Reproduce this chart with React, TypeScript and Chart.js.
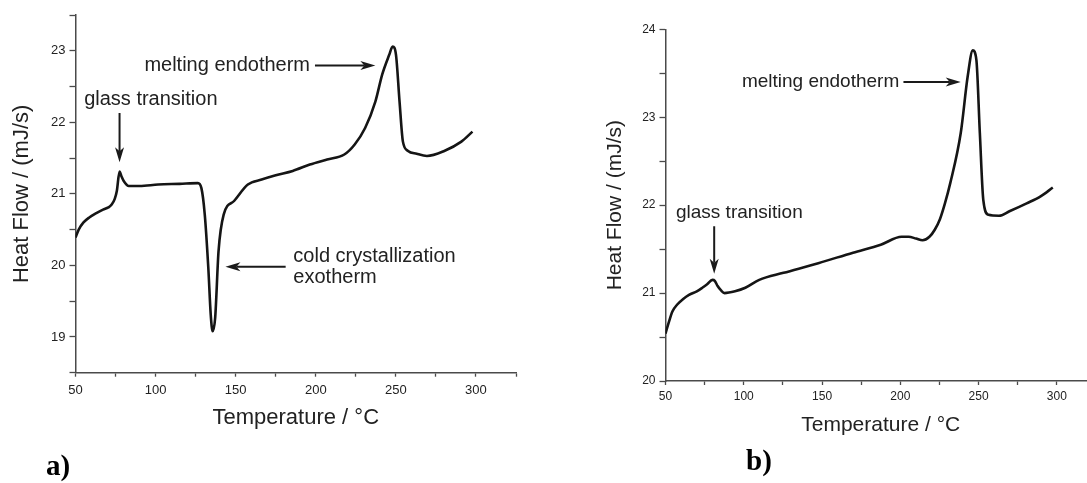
import React, { useEffect, useRef } from 'react';
import { Chart, registerables } from 'chart.js';

Chart.register(...registerables);

// ---------------- data ----------------
// (a) DSC trace with cold crystallization
const tempA = [50, 52, 55, 58.6, 63, 67.2, 70.5, 72.6, 74.5, 75.8, 77.5, 78.8, 80.1, 83.3, 90, 101.6, 115, 126.4, 128.6, 130.7, 132.9, 134.4, 135.6, 137.2, 139.3, 142.5, 149, 157.6, 166.2, 175, 185.6, 196.3, 207.1, 217.8, 224.3, 230.8, 237.2, 241.5, 245.8, 248, 250.1, 252.3, 254.4, 257.6, 263, 269.4, 280.2, 290.9, 297.8];
const heatA = [20.39, 20.5, 20.6, 20.67, 20.73, 20.78, 20.81, 20.85, 20.93, 21.04, 21.31, 21.24, 21.18, 21.11, 21.11, 21.13, 21.14, 21.15, 21.08, 20.71, 19.97, 19.32, 19.08, 19.27, 20.2, 20.71, 20.9, 21.13, 21.2, 21.26, 21.32, 21.41, 21.48, 21.55, 21.69, 21.92, 22.29, 22.67, 22.94, 23.06, 22.94, 22.29, 21.73, 21.6, 21.56, 21.53, 21.6, 21.73, 21.87];

// (b) DSC trace without cold crystallization
const tempB = [50, 52, 54.4, 57.5, 61.1, 65, 70, 73.5, 76.6, 80, 81.5, 83.3, 85.5, 87.7, 94.4, 101, 109.9, 125.4, 147.6, 169.8, 187.5, 200.8, 205.3, 210, 214.2, 218.6, 222, 225.3, 228.5, 231.9, 238.6, 243, 246.3, 248.6, 250.8, 253, 256.3, 263, 269.7, 280.7, 289.6, 297.4];
const heatB = [20.54, 20.66, 20.79, 20.87, 20.93, 20.98, 21.02, 21.06, 21.1, 21.15, 21.14, 21.08, 21.03, 21.0, 21.02, 21.06, 21.15, 21.23, 21.34, 21.46, 21.55, 21.64, 21.64, 21.62, 21.6, 21.64, 21.72, 21.84, 22.02, 22.25, 22.82, 23.46, 23.76, 23.65, 22.82, 22.06, 21.89, 21.88, 21.93, 22.02, 22.1, 22.2];

const xLabelValues = [50, 100, 150, 200, 250, 300];
const yLabelValuesA = [19, 20, 21, 22, 23];
const yLabelValuesB = [20, 21, 22, 23, 24];

const xTitle = 'Temperature / °C';
const yTitle = 'Heat Flow / (mJ/s)';

// annotations, anchored in data coordinates
const notesA = [
  { text: 'glass transition', x: 55.4, y: 22.32 },
  { text: 'melting endotherm', x: 93.0, y: 22.795 },
  { text: 'cold crystallization', x: 186.0, y: 20.13 },
  { text: 'exotherm', x: 186.0, y: 19.83 },
];
const arrowsA = [
  { x1: 77.5, y1: 22.13, x2: 77.5, y2: 21.44 },
  { x1: 199.5, y1: 22.795, x2: 237.2, y2: 22.795 },
  { x1: 181.2, y1: 19.98, x2: 143.6, y2: 19.98 },
];
const notesB = [
  { text: 'glass transition', x: 56.7, y: 21.91 },
  { text: 'melting endotherm', x: 98.8, y: 23.4 },
];
const arrowsB = [
  { x1: 81.1, y1: 21.76, x2: 81.1, y2: 21.22 },
  { x1: 202.0, y1: 23.4, x2: 238.6, y2: 23.4 },
];

const FONT = '"Liberation Sans", Arial, Helvetica, sans-serif';

function drawArrow(ctx: CanvasRenderingContext2D, x1: number, y1: number, x2: number, y2: number) {
  const ang = Math.atan2(y2 - y1, x2 - x1);
  const L = 15, W = 4.5, N = 4;
  ctx.strokeStyle = '#1a1a1a';
  ctx.fillStyle = '#1a1a1a';
  ctx.lineWidth = 2;
  ctx.beginPath();
  ctx.moveTo(x1, y1);
  ctx.lineTo(x2 - (L - N) * Math.cos(ang), y2 - (L - N) * Math.sin(ang));
  ctx.stroke();
  ctx.save();
  ctx.translate(x2, y2);
  ctx.rotate(ang);
  ctx.beginPath();
  ctx.moveTo(0, 0);
  ctx.lineTo(-L, -W);
  ctx.lineTo(-L + N, 0);
  ctx.lineTo(-L, W);
  ctx.closePath();
  ctx.fill();
  ctx.restore();
}

function makeAnnotPlugin(notes: any[], arrows: any[], fontSize: number) {
  return {
    id: 'annot',
    afterDatasetsDraw(chart: any) {
      const { ctx } = chart;
      const x = chart.scales.x;
      const y = chart.scales.y;
      ctx.save();
      ctx.fillStyle = '#222';
      ctx.font = `${fontSize}px ${FONT}`;
      ctx.textBaseline = 'middle';
      ctx.textAlign = 'left';
      for (const n of notes) ctx.fillText(n.text, x.getPixelForValue(n.x), y.getPixelForValue(n.y));
      for (const a of arrows)
        drawArrow(ctx, x.getPixelForValue(a.x1), y.getPixelForValue(a.y1), x.getPixelForValue(a.x2), y.getPixelForValue(a.y2));
      ctx.restore();
    },
  };
}

type Spec = {
  left: number; top: number; width: number; height: number;
  temps: number[]; heat: number[];
  yMin: number; yMax: number; xMin: number; xMax: number;
  yLabels: number[];
  pad: { top: number; right: number; left: number; bottom: number };
  yAxisWidth: number; xAxisHeight: number;
  tickFont: number; titleFont: number; annotFont: number;
  xTitlePad: number; yTitlePad: number; xTickPad: number;
  notes: any[]; arrows: any[];
};

function DscChart({ spec }: { spec: Spec }) {
  const ref = useRef<HTMLCanvasElement>(null);
  useEffect(() => {
    if (!ref.current) return;
    const s = spec;
    const data = s.temps.map((t, i) => ({ x: t, y: s.heat[i] }));
    const axisColor = '#4a4a4a';
    const chart = new Chart(ref.current, {
      type: 'line',
      data: {
        datasets: [
          {
            data,
            borderColor: '#151515',
            borderWidth: 2.6,
            pointRadius: 0,
            fill: false,
            cubicInterpolationMode: 'monotone',
          },
        ],
      },
      options: {
        animation: false,
        responsive: false,
        events: [],
        layout: { padding: s.pad },
        plugins: { legend: { display: false }, tooltip: { enabled: false } },
        scales: {
          x: {
            type: 'linear',
            min: s.xMin,
            max: s.xMax,
            afterFit: (sc: any) => { sc.height = s.xAxisHeight; },
            border: { display: true, color: axisColor, width: 1.5 },
            grid: { display: true, drawOnChartArea: false, drawTicks: true, tickLength: 4, tickColor: axisColor, tickWidth: 1.3 },
            ticks: {
              stepSize: 25,
              includeBounds: false,
              autoSkip: false,
              maxRotation: 0,
              padding: s.xTickPad,
              color: '#222',
              font: { family: FONT, size: s.tickFont },
              callback: (v: any) => (xLabelValues.includes(Number(v)) ? String(v) : ''),
            },
            title: {
              display: true,
              text: xTitle,
              color: '#222',
              font: { family: FONT, size: s.titleFont },
              padding: { top: 0, bottom: s.xTitlePad },
            },
          },
          y: {
            type: 'linear',
            min: s.yMin,
            max: s.yMax,
            afterFit: (sc: any) => { sc.width = s.yAxisWidth; },
            border: { display: true, color: axisColor, width: 1.5 },
            grid: { display: true, drawOnChartArea: false, drawTicks: true, tickLength: 6, tickColor: axisColor, tickWidth: 1.3 },
            ticks: {
              stepSize: 0.5,
              includeBounds: false,
              autoSkip: false,
              padding: 4,
              color: '#222',
              font: { family: FONT, size: s.tickFont },
              callback: (v: any) => (s.yLabels.includes(Number(v)) ? String(v) : ''),
            },
            title: {
              display: true,
              text: yTitle,
              color: '#222',
              font: { family: FONT, size: s.titleFont },
              padding: { top: s.yTitlePad, bottom: 0 },
            },
          },
        },
      },
      plugins: [makeAnnotPlugin(s.notes, s.arrows, s.annotFont)],
    } as any);
    return () => chart.destroy();
  }, [spec]);
  return (
    <canvas
      ref={ref}
      width={spec.width}
      height={spec.height}
      style={{ position: 'absolute', left: spec.left, top: spec.top, width: spec.width, height: spec.height }}
    />
  );
}

const specA: Spec = {
  left: 0, top: 0, width: 540, height: 483,
  temps: tempA, heat: heatA,
  yMin: 18.5, yMax: 23.5, xMin: 50, xMax: 325,
  yLabels: yLabelValuesA,
  pad: { top: 15, right: 24, left: 0, bottom: 0 },
  yAxisWidth: 75.5, xAxisHeight: 110.3,
  tickFont: 13, titleFont: 22, annotFont: 20,
  xTitlePad: 51.5, yTitlePad: 8.5, xTickPad: 6,
  notes: notesA, arrows: arrowsA,
};

const specB: Spec = {
  left: 540, top: 0, width: 560, height: 483,
  temps: tempB, heat: heatB,
  yMin: 20, yMax: 24, xMin: 50, xMax: 325,
  yLabels: yLabelValuesB,
  pad: { top: 29.3, right: 2, left: 0, bottom: 0 },
  yAxisWidth: 125.5, xAxisHeight: 102,
  tickFont: 12, titleFont: 21, annotFont: 19,
  xTitlePad: 45.4, yTitlePad: 62.4, xTickPad: 4,
  notes: notesB, arrows: arrowsB,
};

const panelLabel: React.CSSProperties = {
  position: 'absolute',
  font: 'bold 29px "Liberation Serif", "Times New Roman", serif',
  lineHeight: '29px',
  color: '#000',
};

export default function App() {
  return (
    <div style={{ position: 'absolute', left: 0, top: 0, width: 1087, height: 483, overflow: 'hidden', background: '#fff' }}>
      <DscChart spec={specA} />
      <DscChart spec={specB} />
      <div style={{ ...panelLabel, left: 46, top: 451 }}>a)</div>
      <div style={{ ...panelLabel, left: 746, top: 446 }}>b)</div>
    </div>
  );
}
